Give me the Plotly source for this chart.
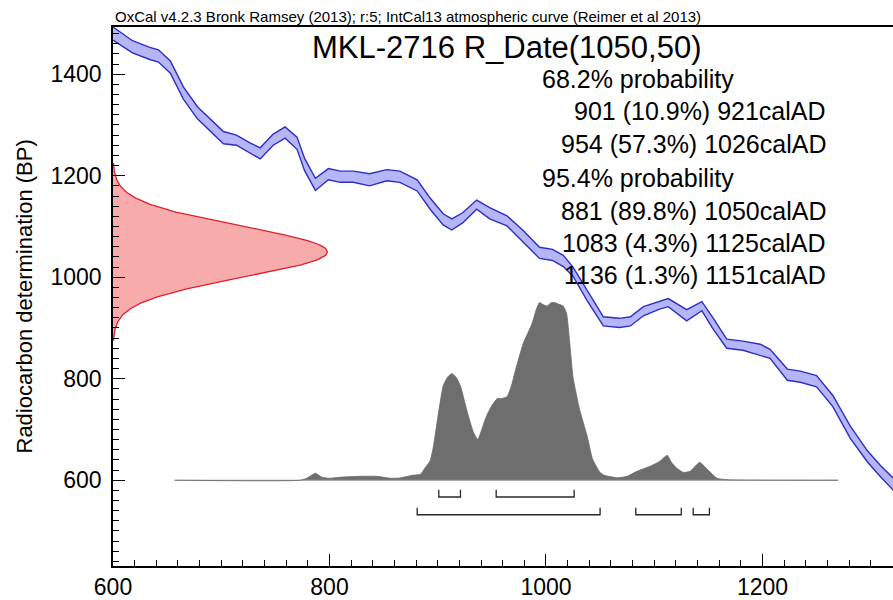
import numpy as np
import plotly.graph_objects as go

# ---- IntCal13 calibration curve (cal AD, radiocarbon age BP, 1-sigma) ----
curve_cal_ad = [600, 618, 634, 642, 653, 665, 678, 690, 702, 714,
                727, 736, 748, 759, 770, 777, 787, 799, 810, 822,
                837, 853, 865, 881, 893, 905, 913, 923, 936, 948,
                964, 979, 994, 1006, 1016, 1025, 1038, 1053, 1068, 1078,
                1090, 1105, 1113, 1130, 1144, 1154, 1167, 1182, 1198, 1207,
                1223, 1235, 1250, 1265, 1281, 1297, 1309, 1321]
curve_bp = [1480, 1454, 1441, 1436, 1414, 1363, 1324, 1299, 1275, 1270,
            1254, 1244, 1271, 1285, 1264, 1222, 1183, 1203, 1198, 1198,
            1192, 1201, 1198, 1181, 1145, 1114, 1104, 1117, 1143, 1126,
            1111, 1081, 1048, 1044, 1032, 1011, 964, 913, 910, 913,
            933, 945, 950, 925, 943, 910, 869, 865, 857, 849,
            808, 804, 795, 756, 695, 647, 618, 592]
curve_sigma = [13, 12, 12, 12, 12, 12, 12, 12, 12, 10,
               10, 11, 11, 11, 12, 12, 12, 11, 11, 11,
               12, 11, 11, 11, 11, 11, 11, 10, 9, 11,
               10, 11, 11, 11, 11, 9, 10, 9, 9, 9,
               9, 8, 8, 11, 9, 11, 9, 9, 11, 9,
               11, 11, 11, 11, 12, 11, 11, 12]

# ---- Measured date: R_Date(1050,50) ----
sample_name = "MKL-2716"
r_date_mean = 1050
r_date_sd = 50

# ---- Calibrated (posterior) probability, relative to its maximum ----
post_cal_ad = [657, 773, 779, 787, 793, 800, 810, 828, 844, 856,
               865, 877, 884, 888, 893, 896, 899, 905, 909, 913,
               917, 921, 927, 933, 937, 942, 945, 950, 955, 959,
               964, 968, 971, 979, 987, 991, 994, 997, 1001, 1005,
               1008, 1012, 1016, 1019, 1022, 1025, 1031, 1038, 1043, 1050,
               1054, 1066, 1075, 1084, 1096, 1105, 1112, 1116, 1121, 1127,
               1133, 1142, 1150, 1158, 1167, 1270]
post_prob = [0, 0, 0.011, 0.039, 0.017, 0.011, 0.017, 0.022, 0.022, 0.011,
             0.013, 0.028, 0.033, 0.067, 0.11, 0.19, 0.31, 0.53, 0.58, 0.60,
             0.58, 0.53, 0.39, 0.27, 0.23, 0.31, 0.36, 0.42, 0.46, 0.46,
             0.47, 0.53, 0.60, 0.77, 0.88, 0.96, 1.0, 0.99, 0.98, 1.0,
             1.0, 0.99, 0.98, 0.94, 0.77, 0.58, 0.40, 0.25, 0.12, 0.044,
             0.028, 0.014, 0.022, 0.05, 0.078, 0.106, 0.14, 0.10, 0.067, 0.044,
             0.05, 0.10, 0.056, 0.011, 0.003, 0]

# ---- Highest probability density ranges ----
r68_start = [901, 954]
r68_end = [921, 1026]
r68_pct = [10.9, 57.3]
r95_start = [881, 1083, 1136]
r95_end = [1050, 1125, 1151]
r95_pct = [89.8, 4.3, 1.3]

header = "OxCal v4.2.3 Bronk Ramsey (2013); r:5; IntCal13 atmospheric curve (Reimer et al 2013)"

# ---- drawing constants ----
X_RANGE = [600, 1320.6]
Y_RANGE = [431, 1493]
POST_BASE = 600        # BP level where the calibrated distribution sits
POST_HEIGHT = 350      # BP units spanned by the tallest point
RDATE_WIDTH = 198      # cal-years spanned by the peak of the BP distribution
BR68_Y, BR95_Y, BR_TICK = POST_BASE - 33, POST_BASE - 68, 14

W, H = 893, 600
ML, MR, MT, MB = 113, 0, 27, 27
PW, PH = W - ML - MR, H - MT - MB
FONT = "Liberation Sans, Arial, sans-serif"


def px_x(px):
    return (px - ML) / PW


def px_y(py):
    return 1 - (py - MT) / PH


fig = go.Figure()

# calibration curve band
ad = np.array(curve_cal_ad, dtype=float)
bp = np.array(curve_bp, dtype=float)
sg = np.array(curve_sigma, dtype=float)
band_line = dict(color="rgb(45,45,200)", width=1.4)
fig.add_trace(go.Scatter(x=ad, y=bp + sg, mode="lines", line=band_line,
                         hoverinfo="skip", showlegend=False))
fig.add_trace(go.Scatter(x=ad, y=bp - sg, mode="lines", line=band_line,
                         fill="tonexty", fillcolor="rgba(150,150,245,0.7)",
                         hoverinfo="skip", showlegend=False))

# radiocarbon measurement distribution on the BP axis
bp_grid = np.linspace(r_date_mean - 3.5 * r_date_sd, r_date_mean + 3.5 * r_date_sd, 200)
dens = np.exp(-0.5 * ((bp_grid - r_date_mean) / r_date_sd) ** 2)
fig.add_trace(go.Scatter(x=X_RANGE[0] + RDATE_WIDTH * dens, y=bp_grid, mode="lines",
                         line=dict(color="rgb(225,30,45)", width=1.3),
                         fill="tozerox", fillcolor="rgba(245,150,150,0.8)",
                         hoverinfo="skip", showlegend=False))

# calibrated distribution
pad = np.array(post_cal_ad, dtype=float)
pp = np.array(post_prob, dtype=float)
fig.add_trace(go.Scatter(x=[pad[0], pad[-1]], y=[POST_BASE, POST_BASE], mode="lines",
                         line=dict(color="rgb(150,150,150)", width=1.2),
                         hoverinfo="skip", showlegend=False))
fig.add_trace(go.Scatter(x=pad, y=POST_BASE + POST_HEIGHT * pp, mode="lines",
                         line=dict(color="rgb(105,105,105)", width=0.8, shape="spline", smoothing=0.5),
                         fill="tonexty", fillcolor="rgb(110,110,110)",
                         hoverinfo="skip", showlegend=False))


# range brackets
def bracket_trace(starts, ends, level):
    xs, ys = [], []
    for s, e in zip(starts, ends):
        xs += [s, s, e, e, None]
        ys += [level + BR_TICK, level, level, level + BR_TICK, None]
    return go.Scatter(x=xs, y=ys, mode="lines", line=dict(color="rgb(40,40,40)", width=1.3),
                      hoverinfo="skip", showlegend=False)


fig.add_trace(bracket_trace(r68_start, r68_end, BR68_Y))
fig.add_trace(bracket_trace(r95_start, r95_end, BR95_Y))

# text
ann = []
ann.append(dict(text=header, x=px_x(113), y=px_y(16), xanchor="left", yanchor="middle",
                font=dict(size=15, color="black")))
ann.append(dict(text=f"{sample_name} R_Date({r_date_mean},{r_date_sd})", x=px_x(506), y=px_y(48),
                xanchor="center", yanchor="middle", font=dict(size=31, color="black")))
ann.append(dict(text="68.2% probability", x=px_x(540), y=px_y(80), xanchor="left",
                yanchor="middle", font=dict(size=25, color="black")))
ann.append(dict(text="95.4% probability", x=px_x(540), y=px_y(180), xanchor="left",
                yanchor="middle", font=dict(size=25, color="black")))
range_rows = list(zip(r68_start, r68_pct, r68_end, [112, 146])) + \
    list(zip(r95_start, r95_pct, r95_end, [213, 246, 278]))
for s, p, e, py in range_rows:
    ann.append(dict(text=f"{s} ({p}%) {e}calAD", x=px_x(828), y=px_y(py), xanchor="right",
                    yanchor="middle", font=dict(size=25, color="black")))
ann.append(dict(text="Radiocarbon determination (BP)", x=px_x(24), y=px_y(300), textangle=-90,
                xanchor="center", yanchor="middle", font=dict(size=22, color="black")))
for a in ann:
    a.update(xref="paper", yref="paper", showarrow=False)

axis_common = dict(showgrid=False, zeroline=False, showline=True, linecolor="black", linewidth=1.5,
                   ticks="inside", ticklen=12, tickwidth=1.3, tickcolor="black",
                   tickfont=dict(size=23, color="black"))
fig.update_layout(
    width=W, height=H,
    margin=dict(l=ML, r=MR, t=MT, b=MB, pad=0),
    paper_bgcolor="white", plot_bgcolor="white",
    font=dict(family=FONT, color="black"),
    annotations=ann,
    xaxis=dict(range=X_RANGE, tick0=0, dtick=200, mirror=True,
               minor=dict(dtick=20, ticks="inside", ticklen=6, tickwidth=1, tickcolor="black", showgrid=False),
               **axis_common),
    yaxis=dict(range=Y_RANGE, tick0=0, dtick=200, ticklabelstandoff=5,
               minor=dict(dtick=20, ticks="inside", ticklen=6, tickwidth=1, tickcolor="black", showgrid=False),
               **axis_common),
)

fig.write_html("out.html")
